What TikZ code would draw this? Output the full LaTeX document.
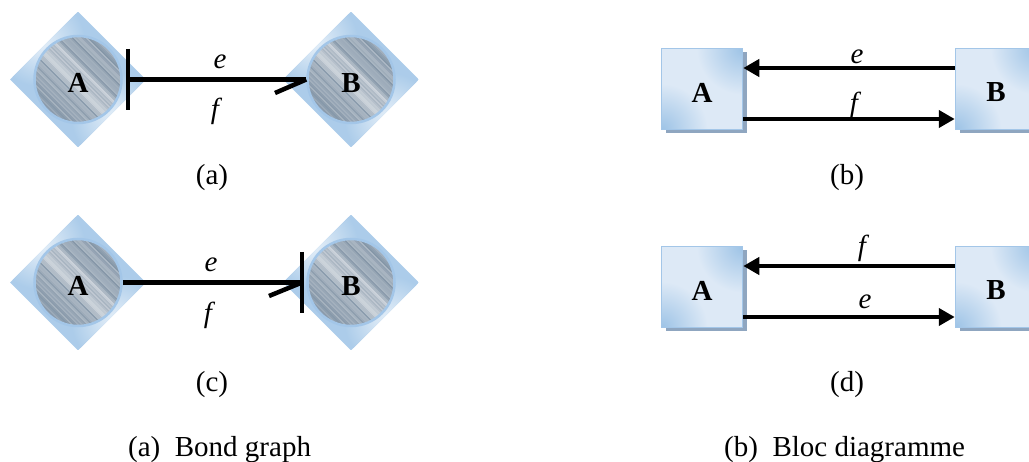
\documentclass[tikz,border=0pt]{standalone}
\usepackage{fontspec}
\setmainfont{Liberation Serif}
\usetikzlibrary{shapes.geometric,arrows.meta}
\definecolor{lightblue}{HTML}{DDE9F6}
\definecolor{midblue}{HTML}{9DC3E6}
\definecolor{edgeblue}{HTML}{A3C6E8}
\definecolor{shadowblue}{HTML}{8FA6C0}
\definecolor{ballgrey}{HTML}{7C8FA2}
\newcommand{\lowered}[1]{\raisebox{-3.5pt}[\height][\depth]{#1}}
\newcommand{\ballstripes}{%
  \fill[ballgrey] (path picture bounding box.south west) rectangle (path picture bounding box.north east);
  \pgfmathsetseed{7}
  \foreach \i in {-46,-45,...,46}{
    \pgfmathsetmacro{\w}{10+40*rnd+(abs(\i)<9 ? 35 : 0)}
    \draw[line width=0.9pt,color=white!\w!ballgrey]
      ([xshift=\i*1pt,yshift=\i*1pt]path picture bounding box.center) ++(-70pt,70pt) -- ++(140pt,-140pt);
  }}
\newcommand{\tilebands}[1]{%
  \fill[lightblue] (path picture bounding box.south west) rectangle (path picture bounding box.north east);
  \shade[inner color=midblue,outer color=lightblue] (path picture bounding box.north east) circle (#1);
  \shade[inner color=midblue,outer color=lightblue] (path picture bounding box.south west) circle (#1);}
\tikzset{
  x=1pt,y=-1pt,
  lozenge/.style={diamond,minimum width=136pt,minimum height=136pt,inner sep=0pt,draw=none,
    path picture={\fill[midblue!85!white] (path picture bounding box.south west) rectangle (path picture bounding box.north east);
      \shade[inner color=white!75!midblue,outer color=midblue!85!white] (path picture bounding box.north west) ++(30pt,-30pt) circle (45pt);
      \shade[inner color=white!75!midblue,outer color=midblue!85!white] (path picture bounding box.south east) ++(-30pt,30pt) circle (45pt);}},
  ball/.style={circle,minimum size=87pt,inner sep=0pt,draw=edgeblue,line width=2.5pt,font=\fontsize{29}{29}\selectfont\bfseries,path picture={\ballstripes}},
  tile/.style={rectangle,minimum size=81pt,inner sep=0pt,draw=edgeblue,line width=1.5pt,font=\fontsize{29}{29}\selectfont\bfseries,path picture={\tilebands{46pt}}},
  shadowtile/.style={rectangle,minimum size=81pt,inner sep=0pt,fill=shadowblue},
  bond/.style={line width=4.5pt},
  bar/.style={line width=4pt},
  flow/.style={line width=4.5pt,-{Triangle[length=16pt,width=17pt]}},
  var/.style={font=\fontsize{29}{29}\selectfont\itshape,inner sep=0pt},
  captxt/.style={font=\fontsize{29}{29}\selectfont,inner sep=0pt},
}
\begin{document}
\begin{tikzpicture}
\useasboundingbox (0,0) rectangle (1029,462);
\clip (0,0) rectangle (1029,462);
% panel a
\node[lozenge] (da) at (78,79.5) {};
\node[lozenge] (db) at (351,79.5) {};
\node[ball] (a) at (78,79.5) {\lowered{A}};
\node[ball] (b) at (351,79.5) {\lowered{B}};
\coordinate (abar) at (128,79.5);
\draw[bond] (abar) -- (b.west);
\draw[bar] (128,49) -- (128,110);
\coordinate (ahook) at (275,93);
\draw[bond] (ahook) -- (b.west);
\node[var] (e1) at (220,62) {e};
\node[var] (f1) at (215,111) {f};
\node[captxt] (la) at (212,178) {(a)};
% panel c
\node[lozenge] (dc) at (78,282.5) {};
\node[lozenge] (dd) at (351,282.5) {};
\node[ball] (c) at (78,282.5) {\lowered{A}};
\node[ball] (d) at (351,282.5) {\lowered{B}};
\coordinate (cbar) at (302,282.5);
\draw[bond] (c.east) -- (cbar);
\draw[bar] (302,252) -- (302,313);
\coordinate (chook) at (269,296);
\draw[bond] (chook) -- (cbar);
\node[var] (e3) at (211,265) {e};
\node[var] (f3) at (208,315) {f};
\node[captxt] (lc) at (212,385) {(c)};
% panel b
\node[shadowtile] at (706,93) {};
\node[shadowtile] at (1000,93) {};
\node[tile] (g) at (702,89) {\lowered{A}};
\node[tile] (h) at (996,89) {\lowered{B}};
\draw[flow] (h.west |- 0,68) -- (g.east |- 0,68);
\draw[flow] (g.east |- 0,119) -- (h.west |- 0,119);
\node[var] (e2) at (857,57) {e};
\node[var] (f2) at (854,105) {f};
\node[captxt] (lb) at (847,178) {(b)};
% panel d
\node[shadowtile] at (706,291) {};
\node[shadowtile] at (1000,291) {};
\node[tile] (m) at (702,287) {\lowered{A}};
\node[tile] (n) at (996,287) {\lowered{B}};
\draw[flow] (n.west |- 0,266) -- (m.east |- 0,266);
\draw[flow] (m.east |- 0,317) -- (n.west |- 0,317);
\node[var] (f4) at (862,248) {f};
\node[var] (e4) at (865,302) {e};
\node[captxt] (ld) at (847,385) {(d)};
% captions
\node[captxt,anchor=west] (c1) at (128,450) {(a)\ \ Bond graph};
\node[captxt,anchor=west] (c2) at (724,450) {(b)\ \ Bloc diagramme};
\end{tikzpicture}
\end{document}
